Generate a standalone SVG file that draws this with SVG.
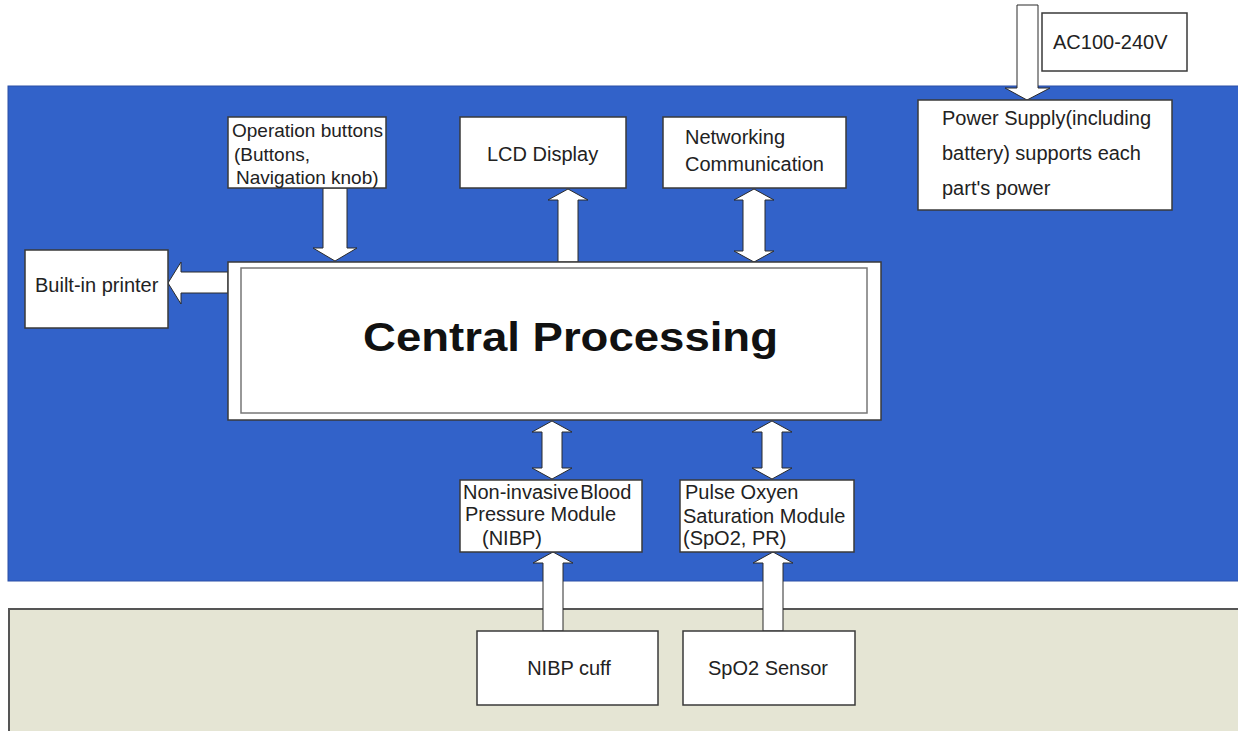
<svg xmlns="http://www.w3.org/2000/svg" width="1238" height="731" viewBox="0 0 1238 731">
<style>
.box{fill:#fff;stroke:#3a3a3a;stroke-width:1.5}
.arr{fill:#fff;stroke:#2b2b2b;stroke-width:1}
.t{font-family:"Liberation Sans",Arial,sans-serif;font-size:20px;fill:#222}
.s{font-size:19px}
.big{font-family:"Liberation Sans",Arial,sans-serif;font-size:41px;font-weight:bold;fill:#111}
</style>
<rect x="0" y="0" width="1238" height="731" fill="#fff"/>
<g id="panels">
<rect x="8" y="86" width="1240" height="495" fill="#3262c9" stroke="#2a4fa6" stroke-width="1"/>
<rect x="9" y="609" width="1240" height="130" fill="#e5e5d4" stroke="#555" stroke-width="2"/>
</g>
<g id="connectors">
<path class="arr" d="M1017,5 H1038 V88 H1050 L1027,100 L1005,88 H1017 Z"/>
<path class="arr" d="M323,188 H347 V248 H357 L335,261 L313,248 H323 Z"/>
<path class="arr" d="M558,262 V200 H548 L568,189 L588,200 H578 V262 Z"/>
<path class="arr" d="M754,189 L774,200 H765 V251 H774 L754,262 L734,251 H743 V200 H734 Z"/>
<path class="arr" d="M228,272 H181 V262 L168,283 L181,304 V293 H228 Z"/>
<path class="arr" d="M552,421 L572,432 H562 V468 H572 L552,479 L532,468 H542 V432 H532 Z"/>
<path class="arr" d="M772,421 L792,432 H782 V468 H792 L772,479 L752,468 H762 V432 H752 Z"/>
<path class="arr" d="M543,631 V563 H533 L553,552 L573,563 H563 V631 Z"/>
<path class="arr" d="M763,631 V563 H753 L773,552 L793,563 H783 V631 Z"/>
</g>
<g id="ac">
<rect class="box" x="1042" y="13" width="145" height="58"/>
<text class="t" x="1053" y="49">AC100-240V</text>
</g>
<g id="power">
<rect class="box" x="918" y="100" width="254" height="110"/>
<text class="t" x="942" y="125">Power Supply(including</text>
<text class="t" x="942" y="160">battery) supports each</text>
<text class="t" x="942" y="195">part's power</text>
</g>
<g id="operation">
<rect class="box" x="228" y="117" width="158" height="71"/>
<text class="t s" x="232" y="137">Operation buttons</text>
<text class="t s" x="234" y="161">(Buttons,</text>
<text class="t s" x="236" y="184">Navigation knob)</text>
</g>
<g id="lcd">
<rect class="box" x="460" y="117" width="166" height="71"/>
<text class="t" x="487" y="161">LCD Display</text>
</g>
<g id="network">
<rect class="box" x="663" y="117" width="183" height="71"/>
<text class="t" x="685" y="144">Networking</text>
<text class="t" x="685" y="171">Communication</text>
</g>
<g id="printer">
<rect class="box" x="25" y="250" width="143" height="78"/>
<text class="t" x="35" y="292">Built-in printer</text>
</g>
<g id="central">
<rect x="228" y="262" width="653" height="158" fill="#fff" stroke="#3a3a3a" stroke-width="1.5"/>
<rect x="241" y="268" width="626" height="145" fill="#fff" stroke="#777" stroke-width="1.5"/>
<text class="big" x="363" y="351" textLength="415" lengthAdjust="spacingAndGlyphs">Central Processing</text>
</g>
<g id="nibp">
<rect class="box" x="460" y="480" width="182" height="72"/>
<text class="t" x="463" y="499" word-spacing="-4">Non-invasive Blood</text>
<text class="t" x="465" y="521">Pressure Module</text>
<text class="t" x="482" y="545">(NIBP)</text>
</g>
<g id="spo2">
<rect class="box" x="680" y="480" width="174" height="72"/>
<text class="t" x="685" y="499">Pulse Oxyen</text>
<text class="t" x="683" y="523">Saturation Module</text>
<text class="t" x="683" y="545">(SpO2, PR)</text>
</g>
<g id="cuff">
<rect class="box" x="477" y="631" width="181" height="74"/>
<text class="t" x="569" y="675" text-anchor="middle">NIBP cuff</text>
</g>
<g id="sensor">
<rect class="box" x="683" y="631" width="172" height="74"/>
<text class="t" x="768" y="675" text-anchor="middle">SpO2 Sensor</text>
</g>
</svg>
